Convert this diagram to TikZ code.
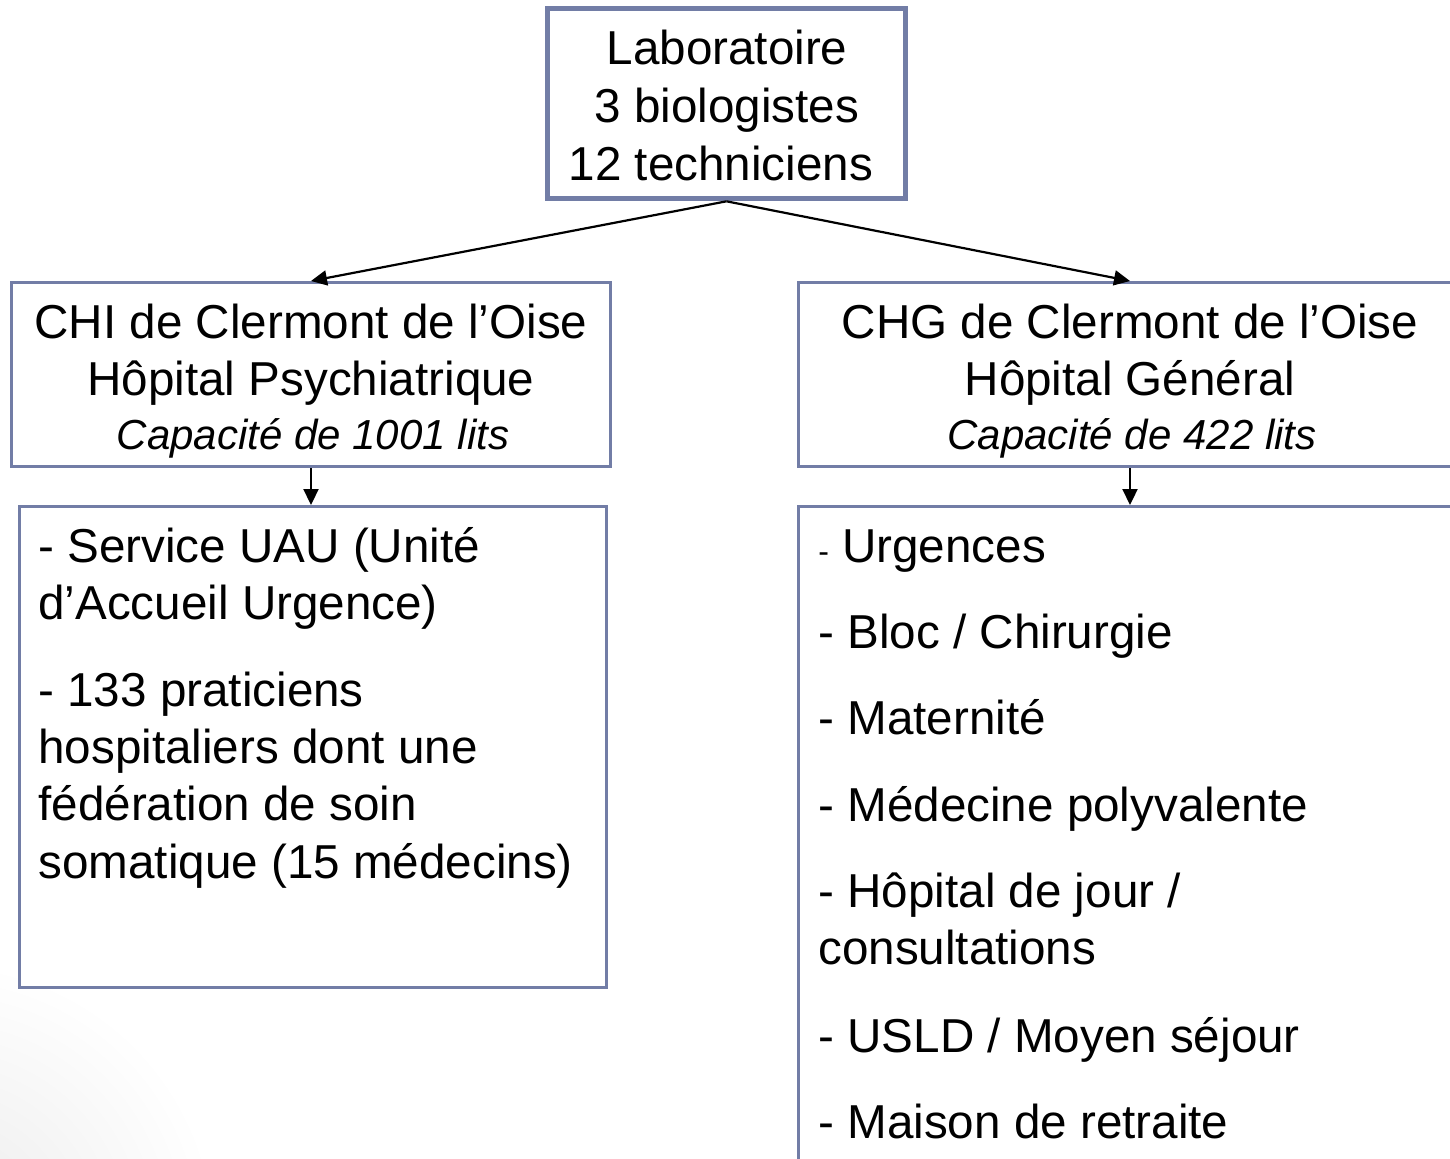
\documentclass[tikz,border=0pt]{standalone}
\usepackage{fontspec}
\setmainfont{Liberation Sans}
\usetikzlibrary{arrows.meta,calc}
\definecolor{boxc}{RGB}{114,125,166}
\begin{document}
\begin{tikzpicture}[x=0.5pt,y=-0.5pt,
  box/.style={draw=boxc, line width=1.5pt, fill=white, inner sep=0pt},
  txt/.style={font=\fontsize{23.8}{28}\selectfont, inner sep=0pt, anchor=base},
  itx/.style={font=\fontsize{21}{25}\selectfont\itshape, inner sep=0pt, anchor=base},
  ltx/.style={txt, anchor=base west},
  arr/.style={line width=1.1pt, -{Triangle[length=8pt,width=7.5pt]}}]
\useasboundingbox (0,0) rectangle (1450,1158);
\clip (0,0) rectangle (1450,1158);
\fill[white] (0,0) rectangle (1450,1158);
\shade[inner color=black!8, outer color=white] (-60,1240) circle[radius=280];

% boxes
\node[box, line width=2.8pt, minimum width=179pt, minimum height=95pt] (lab) at (726.5,103.5) {};
\node[box, minimum width=299.5pt, minimum height=92pt] (lmid) at (311,374.5) {};
\node[box, minimum width=331.5pt, minimum height=92pt] (rmid) at (1130,374.5) {};
\node[box, minimum width=293.5pt, minimum height=240.5pt] (lbot) at (313,747) {};
\node[box, minimum width=331.5pt, minimum height=331.75pt] (rbot) at (1130,838.25) {};

% connectors
\draw[arr] (lab.south) -- (lmid.north);
\draw[arr] (lab.south) -- (rmid.north);
\draw[arr] (lmid.south) -- (lmid.south |- lbot.north);
\draw[arr] (rmid.south) -- (rmid.south |- rbot.north);

% top box text
\node[txt] (l1) at (727,64) {Laboratoire};
\node[txt] (l2) at (727,122) {3 biologistes};
\node[txt] (l3) at (721,180) {12 techniciens};

% middle left
\node[txt] (a1) at (311,338) {CHI de Clermont de l’Oise};
\node[txt] (a2) at (311,395) {Hôpital Psychiatrique};
\node[itx] (a3) at (313,449) {Capacité de 1001 lits};

% middle right
\node[txt] (b1) at (1130,338) {CHG de Clermont de l’Oise};
\node[txt] (b2) at (1130,395) {Hôpital Général};
\node[itx] (b3) at (1132,449) {Capacité de 422 lits};

% bottom left
\node[ltx] (c1) at (38,562) {- Service UAU (Unité};
\node[ltx] (c2) at (38,619) {d’Accueil Urgence)};
\node[ltx] (c3) at (38,706) {- 133 praticiens};
\node[ltx] (c4) at (38,763) {hospitaliers dont une};
\node[ltx] (c5) at (38,820) {fédération de soin};
\node[ltx] (c6) at (38,878) {somatique (15 médecins)};

% bottom right
\node[ltx] (d1) at (818,562) {{\fontsize{16}{18}\selectfont -} Urgences};
\node[ltx] (d2) at (818,648) {- Bloc / Chirurgie};
\node[ltx] (d3) at (818,734) {- Maternité};
\node[ltx] (d4) at (818,821) {- Médecine polyvalente};
\node[ltx] (d5) at (818,907) {- Hôpital de jour /};
\node[ltx] (d6) at (818,964) {consultations};
\node[ltx] (d7) at (818,1052) {- USLD / Moyen séjour};
\node[ltx] (d8) at (818,1138) {- Maison de retraite};
\end{tikzpicture}
\end{document}
